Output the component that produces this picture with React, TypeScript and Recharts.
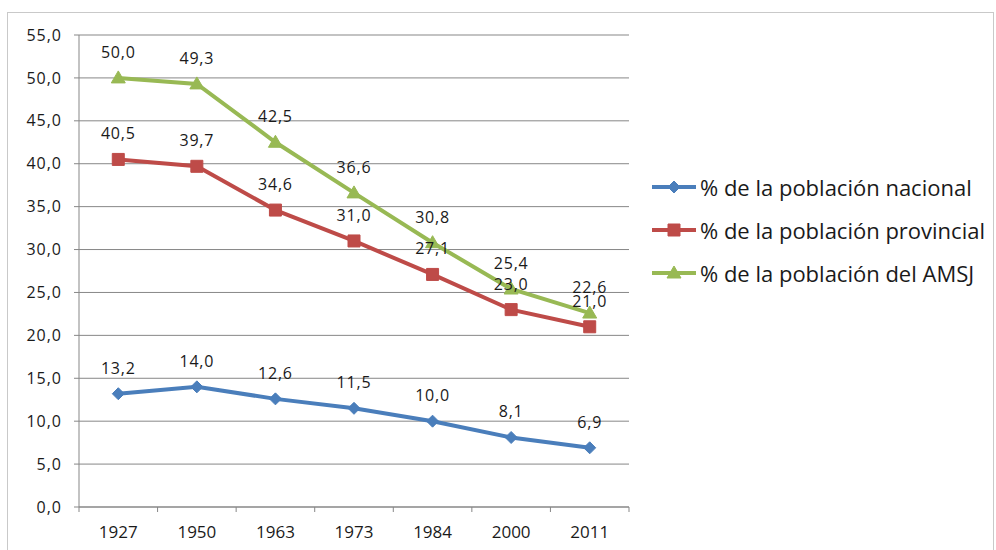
import { CartesianGrid, LabelList, Legend, Line, LineChart, XAxis, YAxis } from 'recharts';

const years = ['1927', '1950', '1963', '1973', '1984', '2000', '2011'];
const nacional = [13.2, 14.0, 12.6, 11.5, 10.0, 8.1, 6.9];
const provincial = [40.5, 39.7, 34.6, 31.0, 27.1, 23.0, 21.0];
const amsj = [50.0, 49.3, 42.5, 36.6, 30.8, 25.4, 22.6];
const yTicks = [0, 5, 10, 15, 20, 25, 30, 35, 40, 45, 50, 55];
// year labels sit on the category centres, tick marks on the category edges
const xTicks = [-0.5, 0, 0.5, 1, 1.5, 2, 2.5, 3, 3.5, 4, 4.5, 5, 5.5, 6, 6.5];

const seriesConfig = [
    { key: 'nacional', label: '% de la población nacional', color: '#4a7ebb', shape: 'diamond' },
    { key: 'provincial', label: '% de la población provincial', color: '#be4b48', shape: 'square' },
    { key: 'amsj', label: '% de la población del AMSJ', color: '#98b954', shape: 'triangle' },
] as const;

const data = years.map((year, i) => ({
    idx: i,
    year,
    nacional: nacional[i],
    provincial: provincial[i],
    amsj: amsj[i],
}));

const font = '"Open Sans", "Liberation Sans", sans-serif';
const gridColor = '#878787';
const textColor = '#1a1a1a';
const xTickSize = 5;
const xTickMargin = 14;

function formatValue(value: number) {
    return value.toFixed(1).replace('.', ',');
}

function markerPath(shape: string, cx: number, cy: number) {
    if (shape === 'diamond') {
        return `M${cx},${cy - 6} L${cx + 6},${cy} L${cx},${cy + 6} L${cx - 6},${cy} Z`;
    }
    if (shape === 'square') {
        return `M${cx - 6},${cy - 6} h12 v12 h-12 Z`;
    }
    return `M${cx},${cy - 7} L${cx + 7},${cy + 5} L${cx - 7},${cy + 5} Z`;
}

function makeDot(shape: string, color: string) {
    return (props: any) => {
        const { cx, cy, index } = props;
        if (cx == null || cy == null) return <g key={index} />;
        return <path key={index} d={markerPath(shape, cx, cy)} fill={color} stroke={color} strokeWidth={1} />;
    };
}

function renderXTick(props: any) {
    const { x, y, payload } = props;
    const v = payload.value as number;
    if (!Number.isInteger(v)) {
        const top = y - xTickMargin - xTickSize;
        return <line x1={x} x2={x} y1={top} y2={top + xTickSize} stroke={gridColor} />;
    }
    return (
        <text x={x} y={y} dy="0.71em" textAnchor="middle" fontFamily={font} fontSize={17} fill={textColor}>
            {years[v]}
        </text>
    );
}

function renderLegend() {
    return (
        <div style={{ fontFamily: font, fontSize: 22, color: textColor }}>
            {seriesConfig.map((s) => (
                <div key={s.key} style={{ display: 'flex', alignItems: 'center', height: 43 }}>
                    <svg width={44} height={16} style={{ marginRight: 4 }}>
                        <line x1={0} y1={8} x2={44} y2={8} stroke={s.color} strokeWidth={4} />
                        <path d={markerPath(s.shape, 22, 8)} fill={s.color} stroke={s.color} />
                    </svg>
                    <span style={{ whiteSpace: 'nowrap' }}>{s.label}</span>
                </div>
            ))}
        </div>
    );
}

export default function App() {
    return (
        <div style={{ position: 'fixed', left: 0, top: 0, width: 996, height: 550, background: '#fff', overflow: 'hidden' }}>
            <div
                style={{
                    position: 'absolute',
                    left: 7,
                    top: 12,
                    width: 987,
                    height: 560,
                    border: '1px solid #c9c9c9',
                    boxSizing: 'border-box',
                }}
            />
            <div style={{ position: 'absolute', left: 0, top: 0 }}>
                <LineChart width={996} height={550} data={data} margin={{ top: 35, right: 367, bottom: 0, left: 0 }}>
                    <CartesianGrid stroke={gridColor} vertical={false} />
                    <XAxis
                        type="number"
                        dataKey="idx"
                        domain={[-0.5, 6.5]}
                        ticks={xTicks}
                        interval={0}
                        tick={renderXTick}
                        tickLine={false}
                        tickSize={xTickSize}
                        tickMargin={xTickMargin}
                        stroke={gridColor}
                        height={43}
                        allowDataOverflow
                    />
                    <YAxis
                        domain={[0, 55]}
                        ticks={yTicks}
                        tickFormatter={(v) => formatValue(v)}
                        width={79}
                        tickSize={5}
                        tickMargin={12}
                        stroke={gridColor}
                        tick={{ fontFamily: font, fontSize: 16, fill: textColor, letterSpacing: 1 }}
                        allowDataOverflow
                    />
                    <Legend
                        layout="vertical"
                        align="center"
                        verticalAlign="middle"
                        content={renderLegend}
                        wrapperStyle={{ left: 652, top: 165, width: 340 }}
                    />
                    {seriesConfig.map((s) => (
                        <Line
                            key={s.key}
                            type="linear"
                            dataKey={s.key}
                            name={s.label}
                            stroke={s.color}
                            strokeWidth={4}
                            dot={makeDot(s.shape, s.color)}
                            activeDot={false}
                            isAnimationActive={false}
                        >
                            <LabelList
                                dataKey={s.key}
                                position="top"
                                offset={20}
                                formatter={(v: any) => formatValue(Number(v))}
                                style={{ fontFamily: font, fontSize: 16, fill: textColor, letterSpacing: 0.8 }}
                            />
                        </Line>
                    ))}
                </LineChart>
            </div>
        </div>
    );
}
